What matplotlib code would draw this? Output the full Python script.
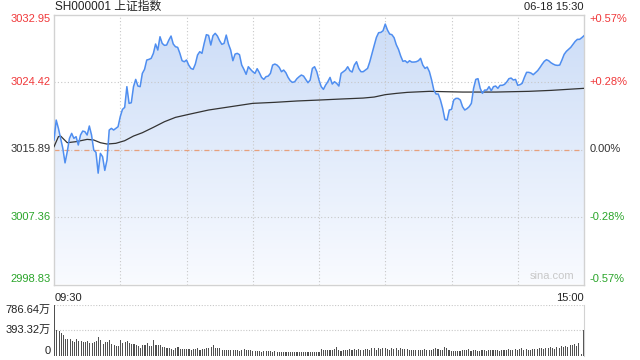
import numpy as np
import matplotlib
matplotlib.use("Agg")
import matplotlib.pyplot as plt
from matplotlib.colors import LinearSegmentedColormap
from matplotlib import transforms

plt.rcParams['font.family'] = ['Liberation Sans', 'Noto Sans CJK SC', 'DejaVu Sans']

title = "SH000001 上证指数"
stamp = "06-18 15:30"
pre_close = 3015.89
price_ticks = [3032.95, 3024.42, 3015.89, 3007.36, 2998.83]
pct_labels = ["+0.57%", "+0.28%", "0.00%", "-0.28%", "-0.57%"]
vol_ticks = [0, 393.32, 786.64]
vol_labels = ["0", "393.32万", "786.64万"]

# one price per minute, 09:30-11:30 then 13:00-15:00
prices = [
    3017.09, 3019.61, 3018.56, 3017.30, 3016.03, 3014.20, 3015.61, 3017.30, 3017.93, 3017.30,
    3017.51, 3016.46, 3017.72, 3018.22, 3018.14, 3017.72, 3018.86, 3017.72, 3015.82, 3015.53,
    3012.90, 3015.40, 3014.98, 3013.25, 3014.56, 3018.35, 3018.56, 3018.35, 3018.56, 3018.77,
    3020.04, 3020.96, 3021.21, 3023.83, 3021.72, 3021.80, 3023.83, 3024.75, 3023.91, 3023.83,
    3025.51, 3026.02, 3027.20, 3027.28, 3027.41, 3028.04, 3029.22, 3028.46, 3030.14, 3029.30,
    3029.05, 3029.09, 3029.72, 3030.23, 3029.22, 3028.88, 3028.80, 3028.04, 3027.11, 3026.98,
    3027.20, 3026.56, 3026.14, 3026.02, 3026.69, 3027.83, 3028.25, 3028.04, 3029.30, 3030.40,
    3030.31, 3029.09, 3030.27, 3030.57, 3030.23, 3029.64, 3029.18, 3029.30, 3030.35, 3029.22,
    3028.46, 3027.11, 3027.95, 3028.04, 3027.87, 3026.56, 3026.02, 3025.39, 3026.35, 3026.02,
    3025.72, 3025.51, 3026.10, 3025.59, 3025.00, 3024.75, 3025.09, 3025.17, 3025.51, 3026.56,
    3026.69, 3026.56, 3026.27, 3025.72, 3025.93, 3025.59, 3025.00, 3024.58, 3024.37, 3024.46,
    3024.84, 3025.09, 3025.30, 3025.17, 3024.75, 3024.33, 3024.67, 3026.14, 3026.35, 3025.72,
    3024.67, 3023.83, 3023.49, 3024.04, 3024.46, 3025.00, 3024.16, 3024.46, 3024.25, 3023.91,
    3025.51, 3025.72, 3025.93, 3026.35, 3025.85, 3025.68, 3026.56, 3026.98, 3026.14, 3025.72,
    3025.72, 3025.93, 3026.14, 3026.98, 3028.04, 3029.05, 3030.06, 3030.65, 3030.69, 3030.90,
    3031.74, 3030.99, 3030.48, 3030.40, 3030.02, 3029.13, 3028.54, 3027.70, 3027.03, 3027.11,
    3026.86, 3027.11, 3026.94, 3026.94, 3026.98, 3027.11, 3027.41, 3026.56, 3026.14, 3026.31,
    3025.72, 3024.67, 3023.40, 3022.90, 3022.90, 3022.14, 3021.09, 3019.70, 3019.61, 3020.88,
    3020.96, 3022.14, 3022.35, 3022.35, 3022.14, 3021.30, 3020.88, 3021.05, 3021.30, 3021.72,
    3023.62, 3024.75, 3024.84, 3023.62, 3022.98, 3023.40, 3023.40, 3023.83, 3023.32, 3023.83,
    3023.91, 3023.62, 3024.00, 3024.00, 3024.12, 3024.42, 3024.84, 3024.92, 3024.67, 3024.75,
    3024.00, 3024.08, 3024.25, 3025.00, 3025.64, 3025.64, 3025.55, 3025.34, 3025.59, 3025.85,
    3026.23, 3026.65, 3027.03, 3027.24, 3027.11, 3026.86, 3026.69, 3026.56, 3026.52, 3026.56,
    3027.20, 3027.91, 3028.29, 3028.54, 3028.80, 3029.18, 3029.55, 3029.81, 3029.81, 3030.02,
    3030.27,
]

# average price line, read at a handful of minutes
avg_minutes = [0, 2, 3, 6, 10, 15, 18, 21, 24, 28, 32, 36, 40, 45, 50, 55, 61, 70, 80, 90,
               100, 110, 120, 130, 140, 145, 150, 155, 160, 170, 178, 185, 200, 215, 225, 240]
avg_prices = [3016.24, 3017.51, 3017.59, 3016.75, 3016.88, 3017.17, 3017.09, 3016.75, 3016.58,
              3016.67, 3017.00, 3017.59, 3018.01, 3018.69, 3019.40, 3019.95, 3020.33, 3020.88,
              3021.30, 3021.72, 3021.85, 3022.02, 3022.14, 3022.27, 3022.39, 3022.52, 3022.82,
              3022.98, 3023.11, 3023.24, 3023.19, 3023.15, 3023.15, 3023.24, 3023.36, 3023.62]

# volume per minute, 万
volumes = [
    787, 400, 385, 347, 320, 255, 255, 255, 223, 212, 255, 228, 223, 212, 212, 223, 196, 201, 212, 223,
    293, 239, 185, 212, 212, 244, 185, 169, 147, 147, 239, 201, 212, 223, 201, 174, 174, 158, 147, 120,
    158, 158, 201, 147, 147, 239, 158, 169, 158, 131, 131, 120, 120, 104, 93, 115, 126, 104, 104, 104,
    104, 104, 93, 104, 104, 115, 93, 104, 104, 115, 115, 126, 158, 120, 120, 120, 93, 93, 93, 83,
    83, 93, 93, 93, 77, 83, 104, 93, 83, 83, 77, 72, 72, 72, 61, 72, 72, 77, 77, 61,
    72, 50, 61, 61, 61, 61, 61, 61, 50, 61, 61, 61, 50, 50, 61, 50, 50, 61, 61, 50,
    61,
    98, 93, 88, 83, 88, 93, 108, 128, 78, 73, 88, 93, 88, 98, 78, 103, 93, 98, 88, 93,
    108, 98, 88, 113, 118, 93, 113, 98, 118, 123, 103, 88, 113, 98, 118, 78, 113, 103, 98, 98,
    88, 93, 88, 88, 83, 93, 78, 98, 88, 93, 78, 103, 113, 98, 93, 83, 128, 113, 88, 68,
    73, 68, 73, 63, 88, 78, 83, 98, 73, 93, 83, 73, 68, 83, 93, 73, 78, 88, 83, 83,
    88, 73, 88, 93, 78, 103, 88, 93, 108, 78, 98, 113, 83, 98, 93, 93, 108, 98, 103, 113,
    118, 108, 123, 113, 128, 118, 108, 133, 123, 143, 128, 153, 138, 158, 168, 178, 148, 188, 20, 405,
]

minutes = np.arange(len(prices))
ymin, ymax = price_ticks[-1], price_ticks[0]
red, green, dark = '#f0383a', '#2aa52a', '#333333'
label_colors = [red, red, dark, green, green]
frame = '#d2d2d2'

fig = plt.figure(figsize=(6.4, 3.6), dpi=100)
ax = fig.add_axes([54 / 640, 1 - 284.5 / 360, 530 / 640, 270 / 360])
axv = fig.add_axes([54 / 640, 1 - 355.5 / 360, 530 / 640, 50.5 / 360])

# gradient fill under the price line
cmap = LinearSegmentedColormap.from_list('fill', ['#f9fbff', '#cbdcf7'])
poly = ax.fill_between(minutes, prices, ymin, color='none', lw=0)
grad = np.linspace(0, 1, 256).reshape(-1, 1)
im = ax.imshow(grad, extent=[0, 240, ymin, ymax], origin='lower', aspect='auto', cmap=cmap, zorder=1)
im.set_clip_path(poly.get_paths()[0], transform=ax.transData)

for m in range(30, 240, 30):
    ax.axvline(m, color='#c8c8c8', lw=0.8, ls=(0, (1, 2)), zorder=2)
for p in price_ticks[1:-1]:
    ax.axhline(p, color='#c8c8c8', lw=0.8, ls=(0, (1, 2)), zorder=2)
ax.axhline(pre_close, color='#e8a07c', lw=0.9, ls=(0, (4, 4)), zorder=2)

ax.plot(minutes, prices, color='#4f8ef0', lw=1.1, zorder=4)
ax.plot(avg_minutes, avg_prices, color='#333333', lw=0.9, zorder=3)

ax.set_xlim(0, 240)
ax.set_ylim(ymin, ymax)
ax.set_xticks([])
ax.set_yticks([])
for s in ax.spines.values():
    s.set_color(frame)
    s.set_linewidth(1)

left_tr = transforms.blended_transform_factory(ax.transAxes, ax.transData)
for k, (p, c, lab) in enumerate(zip(price_ticks, label_colors, pct_labels)):
    va = 'top' if k == 0 else ('bottom' if k == len(price_ticks) - 1 else 'center')
    ax.text(-0.006, p, f"{p:.2f}", transform=left_tr, ha='right', va=va, fontsize=8, color=c)
    ax.text(1.01, p, lab, transform=left_tr, ha='left', va=va, fontsize=8, color=c)

ax.text(0.982, 0.012, "sina.com", transform=ax.transAxes, ha='right', va='bottom',
        fontsize=8, color='#c8c8c8')
fig.text(55 / 640, 1 - 7 / 360, title, ha='left', va='center', fontsize=8.5, color='#222222')
fig.text(584 / 640, 1 - 7 / 360, stamp, ha='right', va='center', fontsize=8, color='#222222')
ax.text(0.002, -0.03, "09:30", transform=ax.transAxes, ha='left', va='top', fontsize=8, color='#222222')
ax.text(1.0, -0.03, "15:00", transform=ax.transAxes, ha='right', va='top', fontsize=8, color='#222222')

# volume panel
axv.bar(minutes, volumes, width=0.5, color='#505050', linewidth=0)
axv.set_xlim(-0.3, 240.3)
axv.set_ylim(0, vol_ticks[-1])
axv.axhline(vol_ticks[1], color='#c8c8c8', lw=0.8, ls=(0, (1, 1.5)), zorder=0)
axv.axhline(vol_ticks[2], color='#c8c8c8', lw=0.8, ls=(0, (1, 1.5)), zorder=0)
axv.set_xticks([])
axv.set_yticks([])
for side in ['left', 'top', 'bottom']:
    axv.spines[side].set_visible(False)
axv.spines['right'].set_color(frame)
vtr = transforms.blended_transform_factory(axv.transAxes, axv.transData)
for v, lab, va in zip(vol_ticks, vol_labels, ['bottom', 'center', 'top']):
    axv.text(-0.006, v, lab, transform=vtr, ha='right', va=va, fontsize=8, color='#222222')

fig.savefig("out.png", dpi=100)
